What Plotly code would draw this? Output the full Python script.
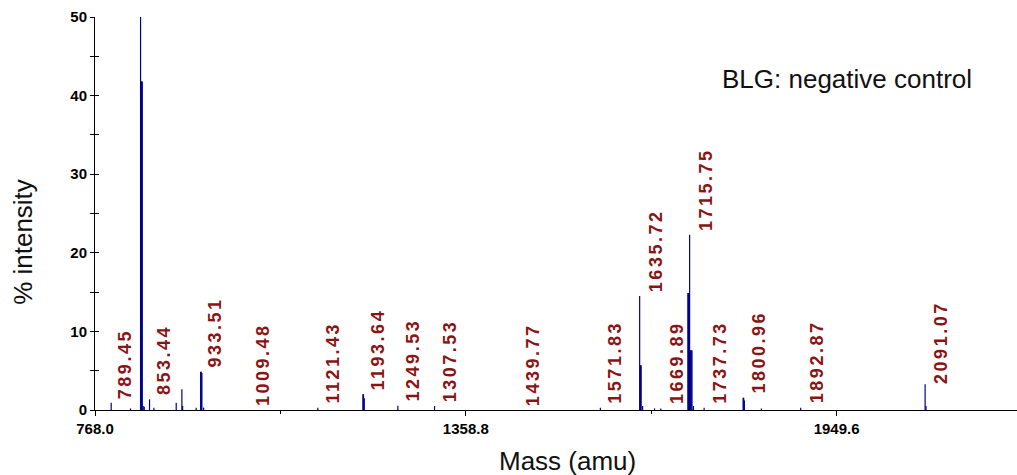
import plotly.graph_objects as go

# ---- data ----
peak_mass = [793.8, 824.6, 840.6, 841.6, 842.4, 843.3, 844.8, 846.5,
             854.9, 861.8, 897.4, 906.4, 907.6, 929.2, 936.3, 937.3, 938.3, 941.0,
             1123.0, 1194.8, 1195.8, 1197.0, 1250.6, 1309.0, 1573.2,
             1635.8, 1637.0, 1638.2, 1640.5, 1659.5, 1669.5,
             1712.6, 1713.6, 1714.6, 1715.4, 1716.8, 1718.0, 1719.2, 1721.5,
             1738.5, 1800.6, 1801.6, 1802.6, 1829.7, 1892.4, 2090.6, 2092.0]
peak_int = [0.93, 0.2, 50.0, 41.8, 41.8, 41.8, 0.5, 0.4,
            1.36, 0.3, 0.93, 2.63, 0.5, 0.3, 4.88, 4.88, 4.7, 0.3,
            0.3, 2.0, 2.0, 1.5, 0.55, 0.5, 0.3,
            14.5, 5.7, 5.7, 0.5, 0.2, 0.2,
            14.9, 14.9, 14.9, 22.3, 7.6, 7.6, 7.6, 0.5,
            0.3, 1.57, 1.57, 1.2, 0.2, 0.3, 3.27, 0.5]

label_text = ["789.45", "853.44", "933.51", "1009.48", "1121.43", "1193.64",
              "1249.53", "1307.53", "1439.77", "1571.83", "1635.72", "1669.89",
              "1715.75", "1737.73", "1800.96", "1892.87", "2091.07"]
label_int = [0.93, 1.36, 4.88, 0.0, 0.3, 2.0, 0.55, 0.5, 0.0, 0.3,
             14.5, 0.2, 22.3, 0.3, 1.57, 0.3, 2.8]

x_range = [768.0, 2237.0]
y_range = [0, 50]
x_tick0, x_dtick = 768.0, 590.8

# ---- build stick spectrum ----
xs, ys = [], []
for m, h in zip(peak_mass, peak_int):
    xs += [m, m, None]
    ys += [0, h, None]

fig = go.Figure()
fig.add_trace(go.Scatter(x=xs, y=ys, mode="lines",
                         line=dict(color="#00008B", width=1.2),
                         hoverinfo="skip", showlegend=False))
# invisible trace for the overlay axis (inside ticks)
fig.add_trace(go.Scatter(x=[x_range[0]], y=[0], yaxis="y2", mode="markers",
                         marker=dict(opacity=0), hoverinfo="skip", showlegend=False))

ann = []
for t, h in zip(label_text, label_int):
    ann.append(dict(x=float(t), y=h, xref="x", yref="y", xshift=16, yshift=2,
                    text=f'<span style="letter-spacing:2.5px">{t}</span>',
                    textangle=-90, showarrow=False, xanchor="center", yanchor="bottom",
                    font=dict(family="Arial", size=18, color="#8A1414", weight="bold")))

ann.append(dict(x=0.8156, y=0.843, xref="paper", yref="paper",
                text="BLG: negative control", showarrow=False,
                xanchor="center", yanchor="middle",
                font=dict(family="Arial", size=26, color="#111111")))
ann.append(dict(x=0.5125, y=-0.13, xref="paper", yref="paper",
                text="Mass (amu)", showarrow=False,
                xanchor="center", yanchor="middle",
                font=dict(family="Arial", size=26, color="#111111")))
ann.append(dict(x=(23 - 95) / 922, y=0.4278, xref="paper", yref="paper",
                text="% intensity", showarrow=False, textangle=-90,
                xanchor="center", yanchor="middle",
                font=dict(family="Arial", size=26, color="#111111")))

tickfont = dict(family="Arial", size=15, color="black", weight="bold")

fig.update_layout(
    width=1017, height=475,
    margin=dict(l=95, r=0, t=17, b=65),
    paper_bgcolor="white", plot_bgcolor="white",
    annotations=ann,
    xaxis=dict(range=x_range, tickmode="linear", tick0=x_tick0, dtick=x_dtick,
               tickformat=".1f", ticks="outside", ticklen=5, tickcolor="black",
               showline=True, linecolor="black", linewidth=1,
               showgrid=False, zeroline=False, tickfont=tickfont,
               minor=dict(tick0=x_tick0, dtick=x_dtick / 2, ticks="outside",
                          ticklen=3, tickcolor="black")),
    yaxis=dict(range=y_range, tickmode="linear", tick0=0, dtick=10,
               ticks="outside", ticklen=4, tickcolor="black",
               showline=True, linecolor="black", linewidth=1,
               showgrid=False, zeroline=False, tickfont=tickfont,
               minor=dict(dtick=5, ticks="outside", ticklen=4, tickcolor="black")),
    yaxis2=dict(range=y_range, overlaying="y", side="left", tickmode="linear",
                tick0=0, dtick=10, ticks="inside", ticklen=4, tickcolor="black",
                showticklabels=False, showline=False, showgrid=False, zeroline=False,
                minor=dict(dtick=5, ticks="inside", ticklen=4, tickcolor="black")),
)

fig.write_html("out.html")
